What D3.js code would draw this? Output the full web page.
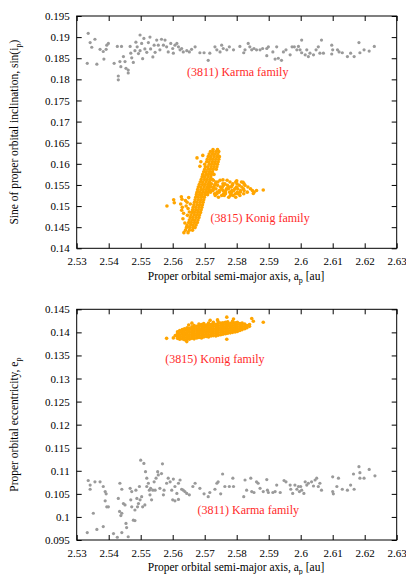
<!DOCTYPE html>
<html>
<head>
<meta charset="UTF-8">
<title>Karma and Konig families</title>
<script src="https://cdn.jsdelivr.net/npm/d3@7"></script>
<style>
  body { margin: 0; background: #fff; }
  svg text { font-family: "Liberation Serif", "Times New Roman", Times, serif; }
</style>
</head>
<body>
<div id="chart"></div>
<script>
// ---- data ----
var xTicks = [2.53, 2.54, 2.55, 2.56, 2.57, 2.58, 2.59, 2.6, 2.61, 2.62, 2.63];
var incTicks = [0.14, 0.145, 0.15, 0.155, 0.16, 0.165, 0.17, 0.175, 0.18, 0.185, 0.19, 0.195];
var eccTicks = [0.095, 0.1, 0.105, 0.11, 0.115, 0.12, 0.125, 0.13, 0.135, 0.14, 0.145];

// (3811) Karma family: [a_p, sin(i_p)]
var karmaInc = [
  [2.5336,0.1909],[2.5342,0.1887],[2.5347,0.1876],[2.5357,0.1895],[2.5373,0.1871],[2.5333,0.1838],
  [2.5363,0.1836],[2.5383,0.1866],[2.5385,0.1848],[2.5392,0.1871],[2.5394,0.1881],[2.5399,0.1885],
  [2.5417,0.1838],[2.5427,0.1878],[2.5430,0.1808],[2.5430,0.1799],[2.5435,0.1842],[2.5440,0.1878],
  [2.5438,0.1830],[2.5446,0.1854],[2.5451,0.1842],[2.5454,0.1826],[2.5461,0.1822],[2.5461,0.1815],
  [2.5467,0.1878],[2.5469,0.1862],[2.5472,0.1851],[2.5477,0.1840],[2.5482,0.1868],[2.5485,0.1888],
  [2.5489,0.1877],[2.5493,0.1861],[2.5498,0.1905],[2.5498,0.1868],[2.5503,0.1885],[2.5506,0.1849],
  [2.5510,0.1897],[2.5513,0.1872],[2.5519,0.1864],[2.5524,0.1887],[2.5529,0.1900],[2.5531,0.1872],
  [2.5538,0.1853],[2.5542,0.1881],[2.5545,0.1864],[2.5550,0.1893],[2.5555,0.1881],[2.5560,0.1870],
  [2.5565,0.1895],[2.5571,0.1881],[2.5576,0.1893],[2.5581,0.1877],[2.5586,0.1865],[2.5594,0.1885],
  [2.5600,0.1873],[2.5602,0.1862],[2.5607,0.1881],[2.5613,0.1885],[2.5618,0.1877],[2.5623,0.1870],
  [2.5628,0.1873],[2.5633,0.1865],[2.5644,0.1868],[2.5652,0.1865],[2.5659,0.1871],[2.5670,0.1877],
  [2.5685,0.1863],[2.5698,0.1863],[2.5711,0.1845],[2.5716,0.1862],[2.5732,0.1877],[2.5738,0.1870],
  [2.5748,0.1865],[2.5753,0.1881],[2.5758,0.1873],[2.5769,0.1870],[2.5777,0.1877],[2.5790,0.1870],
  [2.5810,0.1878],[2.5822,0.1863],[2.5826,0.1870],[2.5836,0.1885],[2.5841,0.1877],[2.5847,0.1870],
  [2.5854,0.1873],[2.5862,0.1870],[2.5873,0.1870],[2.5881,0.1873],[2.5894,0.1873],[2.5899,0.1877],
  [2.5894,0.1856],[2.5913,0.1865],[2.5920,0.1848],[2.5925,0.1877],[2.5930,0.1850],[2.5940,0.1845],
  [2.5946,0.1865],[2.5954,0.1870],[2.5967,0.1858],[2.5973,0.1877],[2.5980,0.1877],[2.5988,0.1870],
  [2.5993,0.1878],[2.5998,0.1870],[2.6003,0.1893],[2.6003,0.1863],[2.6014,0.1858],[2.6019,0.1870],
  [2.6024,0.1854],[2.6029,0.1862],[2.6040,0.1858],[2.6048,0.1870],[2.6055,0.1877],[2.6060,0.1862],
  [2.6065,0.1893],[2.6071,0.1862],[2.6097,0.1881],[2.6100,0.1870],[2.6097,0.1860],[2.6115,0.1870],
  [2.6120,0.1865],[2.6130,0.1863],[2.6146,0.1854],[2.6156,0.1862],[2.6167,0.1854],[2.6182,0.1887],
  [2.6185,0.1863],[2.6198,0.1870],[2.6214,0.1867],[2.6230,0.1878]
];

// (3811) Karma family: [a_p, e_p]
var karmaEcc = [
  [2.5333,0.0966],[2.5336,0.1079],[2.5342,0.1069],[2.5342,0.1060],[2.5352,0.1008],[2.5357,0.1076],
  [2.5363,0.0973],[2.5373,0.1076],[2.5383,0.0979],[2.5383,0.1066],[2.5389,0.1055],[2.5389,0.1035],
  [2.5392,0.1050],[2.5394,0.1022],[2.5399,0.1022],[2.5415,0.0964],[2.5427,0.0956],[2.5430,0.1040],
  [2.5434,0.1012],[2.5435,0.1073],[2.5438,0.1003],[2.5441,0.1060],[2.5441,0.1008],[2.5441,0.0966],
  [2.5446,0.1029],[2.5451,0.1026],[2.5454,0.0986],[2.5456,0.0977],[2.5461,0.0957],[2.5467,0.1062],
  [2.5469,0.1037],[2.5472,0.1055],[2.5472,0.1022],[2.5477,0.0993],[2.5482,0.1015],[2.5482,0.0992],
  [2.5485,0.1058],[2.5488,0.1040],[2.5490,0.1022],[2.5493,0.1029],[2.5496,0.1066],[2.5498,0.1037],
  [2.5500,0.1123],[2.5503,0.1044],[2.5506,0.1022],[2.5510,0.1116],[2.5513,0.1026],[2.5515,0.1098],
  [2.5519,0.1084],[2.5519,0.1066],[2.5524,0.1073],[2.5527,0.1058],[2.5529,0.1048],[2.5531,0.1062],
  [2.5534,0.1037],[2.5538,0.1058],[2.5542,0.1076],[2.5545,0.1058],[2.5548,0.1084],[2.5553,0.1098],
  [2.5555,0.1091],[2.5560,0.1062],[2.5565,0.1094],[2.5568,0.1115],[2.5571,0.1048],[2.5573,0.1058],
  [2.5581,0.1073],[2.5586,0.1084],[2.5592,0.1076],[2.5597,0.1058],[2.5600,0.1037],[2.5602,0.1082],
  [2.5607,0.1066],[2.5607,0.1035],[2.5613,0.1051],[2.5618,0.1073],[2.5618,0.1038],[2.5623,0.1080],
  [2.5628,0.1060],[2.5633,0.1058],[2.5638,0.1055],[2.5644,0.1051],[2.5652,0.1048],[2.5663,0.1066],
  [2.5670,0.1073],[2.5685,0.1062],[2.5698,0.1050],[2.5711,0.1044],[2.5716,0.1053],[2.5732,0.1060],
  [2.5738,0.1073],[2.5742,0.1076],[2.5750,0.1050],[2.5756,0.1093],[2.5763,0.1066],[2.5777,0.1066],
  [2.5788,0.1084],[2.5790,0.1066],[2.5822,0.1044],[2.5826,0.1080],[2.5831,0.1058],[2.5844,0.1084],
  [2.5847,0.1055],[2.5854,0.1053],[2.5862,0.1076],[2.5867,0.1073],[2.5873,0.1062],[2.5883,0.1055],
  [2.5894,0.1081],[2.5896,0.1058],[2.5899,0.1053],[2.5913,0.1053],[2.5920,0.1055],[2.5925,0.1069],
  [2.5936,0.1053],[2.5948,0.1079],[2.5954,0.1076],[2.5967,0.1069],[2.5969,0.1060],[2.5975,0.1051],
  [2.5982,0.1069],[2.5988,0.1060],[2.5993,0.1066],[2.5996,0.1055],[2.6000,0.1066],[2.6003,0.1058],
  [2.6010,0.1051],[2.6014,0.1076],[2.6019,0.1069],[2.6024,0.1073],[2.6034,0.1076],[2.6040,0.1067],
  [2.6045,0.1080],[2.6050,0.1084],[2.6055,0.1066],[2.6060,0.1073],[2.6065,0.1058],[2.6100,0.1087],
  [2.6100,0.1055],[2.6102,0.1050],[2.6113,0.1066],[2.6118,0.1084],[2.6130,0.1060],[2.6146,0.1058],
  [2.6156,0.1069],[2.6165,0.1093],[2.6167,0.1060],[2.6182,0.1109],[2.6185,0.1096],[2.6185,0.1084],
  [2.6198,0.1084],[2.6214,0.1103],[2.6232,0.1089]
];

// (3815) Konig family: [a_p, sin(i_p)] -- scattered members
var konigInc = [
  [2.5676,0.1614],[2.5685,0.1594],[2.5688,0.1605],[2.5694,0.1620],
  [2.5582,0.1500],[2.5603,0.1515],[2.5605,0.1508],[2.5627,0.1522],[2.5629,0.1516],[2.5625,0.1505],
  [2.5630,0.1497],[2.5628,0.1490],[2.5634,0.1483],[2.5632,0.1470],[2.5640,0.1513],[2.5645,0.1509],
  [2.5642,0.1500],[2.5648,0.1494],[2.5646,0.1478],[2.5652,0.1486],[2.5650,0.1520],[2.5655,0.1505],
  [2.5638,0.1460],[2.5645,0.1452],
  [2.5883,0.1538],[2.5852,0.1530],[2.5862,0.1537],[2.5820,0.1556],[2.5757,0.1562],[2.5800,0.1560]
];

// Konig family stalk, rows of [sin(i_p), a_p values]
var konigStalkRows = [
  [0.1437, [2.5635, 2.5648]],
  [0.1443, [2.5640, 2.5652, 2.5662]],
  [0.1449, [2.5643, 2.5653, 2.5663, 2.5670]],
  [0.1455, [2.5645, 2.5656, 2.5664, 2.5673]],
  [0.1461, [2.5650, 2.5658, 2.5668, 2.5677]],
  [0.1467, [2.5652, 2.5662, 2.5670, 2.5679]],
  [0.1473, [2.5655, 2.5663, 2.5673, 2.5682]],
  [0.1479, [2.5657, 2.5667, 2.5675, 2.5684]],
  [0.1485, [2.5660, 2.5668, 2.5678, 2.5687]],
  [0.1491, [2.5662, 2.5672, 2.5680, 2.5689]],
  [0.1497, [2.5664, 2.5672, 2.5682, 2.5691]],
  [0.1503, [2.5666, 2.5676, 2.5684, 2.5693]],
  [0.1509, [2.5668, 2.5676, 2.5686, 2.5695]],
  [0.1515, [2.5670, 2.5680, 2.5688, 2.5697]],
  [0.1521, [2.5672, 2.5680, 2.5690, 2.5699]],
  [0.1527, [2.5674, 2.5684, 2.5692, 2.5701, 2.5709]],
  [0.1533, [2.5676, 2.5684, 2.5694, 2.5703, 2.5711]],
  [0.1539, [2.5678, 2.5688, 2.5696, 2.5705, 2.5713]],
  [0.1545, [2.5680, 2.5688, 2.5698, 2.5707, 2.5715]],
  [0.1551, [2.5683, 2.5693, 2.5701, 2.5710, 2.5718]],
  [0.1557, [2.5686, 2.5694, 2.5704, 2.5713]],
  [0.1563, [2.5689, 2.5699, 2.5707, 2.5716, 2.5724]],
  [0.1569, [2.5692, 2.5700, 2.5710, 2.5719]],
  [0.1575, [2.5694, 2.5704, 2.5712, 2.5721, 2.5729]],
  [0.1581, [2.5697, 2.5705, 2.5715, 2.5724]],
  [0.1587, [2.5700, 2.5710, 2.5718, 2.5727, 2.5736]],
  [0.1593, [2.5702, 2.5710, 2.5720, 2.5729, 2.5738]],
  [0.1599, [2.5700, 2.5714, 2.5722, 2.5731, 2.5740]],
  [0.1605, [2.5706, 2.5714, 2.5724, 2.5733, 2.5742]],
  [0.1611, [2.5708, 2.5718, 2.5726, 2.5735, 2.5744]],
  [0.1617, [2.5711, 2.5719, 2.5729, 2.5738, 2.5746]],
  [0.1623, [2.5714, 2.5724, 2.5732, 2.5741]],
  [0.1629, [2.5718, 2.5726, 2.5736, 2.5744]],
  [0.1634, [2.5726, 2.5740]]
];

// Konig family horizontal arm, rows of [sin(i_p), a_p values]
var konigArmRows = [
  [0.1561, [2.5727, 2.5748, 2.5770]],
  [0.1557, [2.5716, 2.5735, 2.5741, 2.5779, 2.5797, 2.5815]],
  [0.1553, [2.5721, 2.5733, 2.5757, 2.5763, 2.5788, 2.5801, 2.5823]],
  [0.1549, [2.5714, 2.5731, 2.5740, 2.5759, 2.5771, 2.5786, 2.5808, 2.5826]],
  [0.1545, [2.5719, 2.5728, 2.5749, 2.5755, 2.5776, 2.5783, 2.5799, 2.5816, 2.5835]],
  [0.1541, [2.5711, 2.5727, 2.5735, 2.5753, 2.5768, 2.5774, 2.5794, 2.5803, 2.5821, 2.5843]],
  [0.1537, [2.5720, 2.5726, 2.5746, 2.5757, 2.5766, 2.5785, 2.5791, 2.5812, 2.5823, 2.5849]],
  [0.1533, [2.5718, 2.5739, 2.5745, 2.5764, 2.5778, 2.5784, 2.5802, 2.5811, 2.5833, 2.5854]],
  [0.1529, [2.5731, 2.5738, 2.5759, 2.5765, 2.5782, 2.5796, 2.5804, 2.5822]],
  [0.1525, [2.5733, 2.5753, 2.5761, 2.5780, 2.5789, 2.5810]],
  [0.1521, [2.5743, 2.5775, 2.5797]]
];

// Konig family in (a_p, e_p): scattered members
var konigEcc = [
  [2.5581,0.1387],[2.5602,0.1388],[2.5608,0.1393],[2.5644,0.1380],[2.5650,0.1416],[2.5717,0.1426],
  [2.5769,0.1433],[2.5769,0.1385],[2.5847,0.1430],[2.5852,0.1424],[2.5883,0.1422],[2.5790,0.1429],
  [2.5660,0.1420],[2.5740,0.1427]
];

// Konig family dense core, columns of [a_p, e_p values]
var konigEccCols = [
  [2.5615, [0.1387, 0.1392, 0.1397, 0.1401]],
  [2.5622, [0.1385, 0.1390, 0.1395, 0.1400, 0.1404]],
  [2.5630, [0.1386, 0.1391, 0.1396, 0.1401, 0.1406]],
  [2.5637, [0.1384, 0.1389, 0.1394, 0.1399, 0.1404, 0.1408]],
  [2.5645, [0.1386, 0.1391, 0.1396, 0.1401, 0.1406, 0.1410]],
  [2.5652, [0.1385, 0.1390, 0.1395, 0.1400, 0.1405, 0.1409]],
  [2.5660, [0.1387, 0.1392, 0.1397, 0.1402, 0.1407, 0.1412]],
  [2.5667, [0.1386, 0.1391, 0.1396, 0.1401, 0.1406, 0.1411, 0.1415]],
  [2.5675, [0.1388, 0.1393, 0.1398, 0.1403, 0.1408, 0.1413]],
  [2.5682, [0.1389, 0.1394, 0.1399, 0.1404, 0.1409, 0.1414, 0.1418]],
  [2.5690, [0.1388, 0.1393, 0.1398, 0.1403, 0.1408, 0.1413, 0.1417]],
  [2.5697, [0.1390, 0.1395, 0.1400, 0.1405, 0.1410, 0.1415, 0.1419]],
  [2.5705, [0.1391, 0.1396, 0.1401, 0.1406, 0.1411, 0.1416]],
  [2.5712, [0.1390, 0.1395, 0.1400, 0.1405, 0.1410, 0.1415, 0.1420]],
  [2.5720, [0.1392, 0.1397, 0.1402, 0.1407, 0.1412, 0.1417]],
  [2.5727, [0.1393, 0.1398, 0.1403, 0.1408, 0.1413, 0.1418, 0.1422]],
  [2.5735, [0.1392, 0.1397, 0.1402, 0.1407, 0.1412, 0.1417]],
  [2.5742, [0.1394, 0.1399, 0.1404, 0.1409, 0.1414, 0.1419, 0.1423]],
  [2.5750, [0.1395, 0.1400, 0.1405, 0.1410, 0.1415, 0.1420]],
  [2.5757, [0.1396, 0.1401, 0.1406, 0.1411, 0.1416, 0.1421]],
  [2.5765, [0.1397, 0.1402, 0.1407, 0.1412, 0.1417, 0.1422]],
  [2.5772, [0.1398, 0.1403, 0.1408, 0.1413, 0.1418, 0.1423]],
  [2.5780, [0.1399, 0.1404, 0.1409, 0.1414, 0.1419]],
  [2.5787, [0.1400, 0.1405, 0.1410, 0.1415, 0.1420, 0.1424]],
  [2.5795, [0.1401, 0.1406, 0.1411, 0.1416, 0.1421]],
  [2.5802, [0.1402, 0.1407, 0.1412, 0.1417, 0.1422]],
  [2.5810, [0.1404, 0.1409, 0.1414, 0.1419]],
  [2.5817, [0.1406, 0.1411, 0.1416, 0.1420]],
  [2.5825, [0.1408, 0.1413, 0.1418]],
  [2.5832, [0.1410, 0.1415]],
  [2.5840, [0.1413, 0.1417]]
];

// labels: [text, a_p, y value at baseline]
var incLabels = [["(3811) Karma family", 2.5803, 0.1808], ["(3815) Konig family", 2.5873, 0.1462]];
var eccLabels = [["(3815) Konig family", 2.5732, 0.1334], ["(3811) Karma family", 2.5836, 0.1006]];

// flatten row/column blocks into point lists
konigStalkRows.concat(konigArmRows).forEach(function (r) {
    r[1].forEach(function (a) { konigInc.push([a, r[0]]); });
});
konigEccCols.forEach(function (c) {
    c[1].forEach(function (e) { konigEcc.push([c[0], e]); });
});

var W = 406, H = 575;
var gray = "#9a9a9a", orange = "#ffa500", red = "#ff2a2a";
var serif = '"Liberation Serif", "Times New Roman", Times, serif';
var tickLen = 5;

var svg = d3.select("#chart").append("svg")
        .attr("width", W)
        .attr("height", H)
        .style("font-family", serif);

function drawPanel(opt) {
    var x = d3.scaleLinear().domain([2.53, 2.63]).range([76.7, 396.7]);
    var y = d3.scaleLinear().domain(opt.yDomain).range([opt.bottom, opt.top]);
    var g = svg.append("g");

    // points first so the frame sits on top
    g.append("g").selectAll("circle")
            .data(opt.karma)
            .enter().append("circle")
            .attr("cx", function (d) { return x(d[0]); })
            .attr("cy", function (d) { return y(d[1]); })
            .attr("r", 1.6)
            .attr("fill", gray);
    g.append("g").selectAll("circle")
            .data(opt.konig)
            .enter().append("circle")
            .attr("cx", function (d) { return x(d[0]); })
            .attr("cy", function (d) { return y(d[1]); })
            .attr("r", 1.8)
            .attr("fill", orange);

    // axes with inward ticks on all four sides
    var fmt = function (d) { return String(+d.toFixed(3)); };
    var axB = g.append("g").attr("transform", "translate(0," + y.range()[0] + ")")
            .call(d3.axisBottom(x).tickValues(xTicks).tickSizeInner(-tickLen).tickSizeOuter(0).tickPadding(9).tickFormat(fmt));
    var axT = g.append("g").attr("transform", "translate(0," + y.range()[1] + ")")
            .call(d3.axisTop(x).tickValues(xTicks).tickSizeInner(-tickLen).tickSizeOuter(0).tickFormat(""));
    var axL = g.append("g").attr("transform", "translate(" + x.range()[0] + ",0)")
            .call(d3.axisLeft(y).tickValues(opt.yTicks).tickSizeInner(-tickLen).tickSizeOuter(0).tickPadding(7).tickFormat(fmt));
    var axR = g.append("g").attr("transform", "translate(" + x.range()[1] + ",0)")
            .call(d3.axisRight(y).tickValues(opt.yTicks).tickSizeInner(-tickLen).tickSizeOuter(0).tickFormat(""));
    [axB, axT, axL, axR].forEach(function (a) {
        a.attr("font-family", serif).attr("font-size", 11);
        a.select(".domain").remove();
        a.selectAll("line").attr("stroke", "#000");
        a.selectAll("text").attr("fill", "#000");
    });

    g.append("rect")
            .attr("x", x.range()[0]).attr("y", opt.top)
            .attr("width", x.range()[1] - x.range()[0])
            .attr("height", opt.bottom - opt.top)
            .attr("fill", "none").attr("stroke", "#000").attr("stroke-width", 1);

    // annotations
    g.selectAll("text.fam")
            .data(opt.labels)
            .enter().append("text")
            .attr("class", "fam")
            .attr("x", function (d) { return x(d[1]); })
            .attr("y", function (d) { return y(d[2]); })
            .attr("text-anchor", "middle")
            .attr("fill", red)
            .style("font-size", "12px")
            .text(function (d) { return d[0]; });

    // x title
    var xt = g.append("text")
            .attr("x", 236)
            .attr("y", opt.xTitleY)
            .attr("text-anchor", "middle")
            .style("font-size", "11.5px");
    xt.append("tspan").text("Proper orbital semi-major axis, a");
    xt.append("tspan").attr("dy", 3).style("font-size", "8px").text("p");
    xt.append("tspan").attr("dy", -3).text(" [au]");

    // y title
    var yt = g.append("text")
            .attr("transform", "translate(" + 18 + "," + ((opt.top + opt.bottom) / 2) + ") rotate(-90)")
            .attr("text-anchor", "middle")
            .style("font-size", "11.5px");
    yt.append("tspan").text(opt.yTitle[0]);
    yt.append("tspan").attr("dy", 3).style("font-size", "8px").text("p");
    if (opt.yTitle[1]) yt.append("tspan").attr("dy", -3).text(opt.yTitle[1]);
}

drawPanel({
    top: 16, bottom: 248.3,
    yDomain: [0.14, 0.195], yTicks: incTicks,
    karma: karmaInc, konig: konigInc, labels: incLabels,
    xTitleY: 279.5,
    yTitle: ["Sine of proper orbital inclination, sin(i", ")"]
});

drawPanel({
    top: 309.3, bottom: 540,
    yDomain: [0.095, 0.145], yTicks: eccTicks,
    karma: karmaEcc, konig: konigEcc, labels: eccLabels,
    xTitleY: 571,
    yTitle: ["Proper orbital eccentricity, e", ""]
});
</script>
</body>
</html>
